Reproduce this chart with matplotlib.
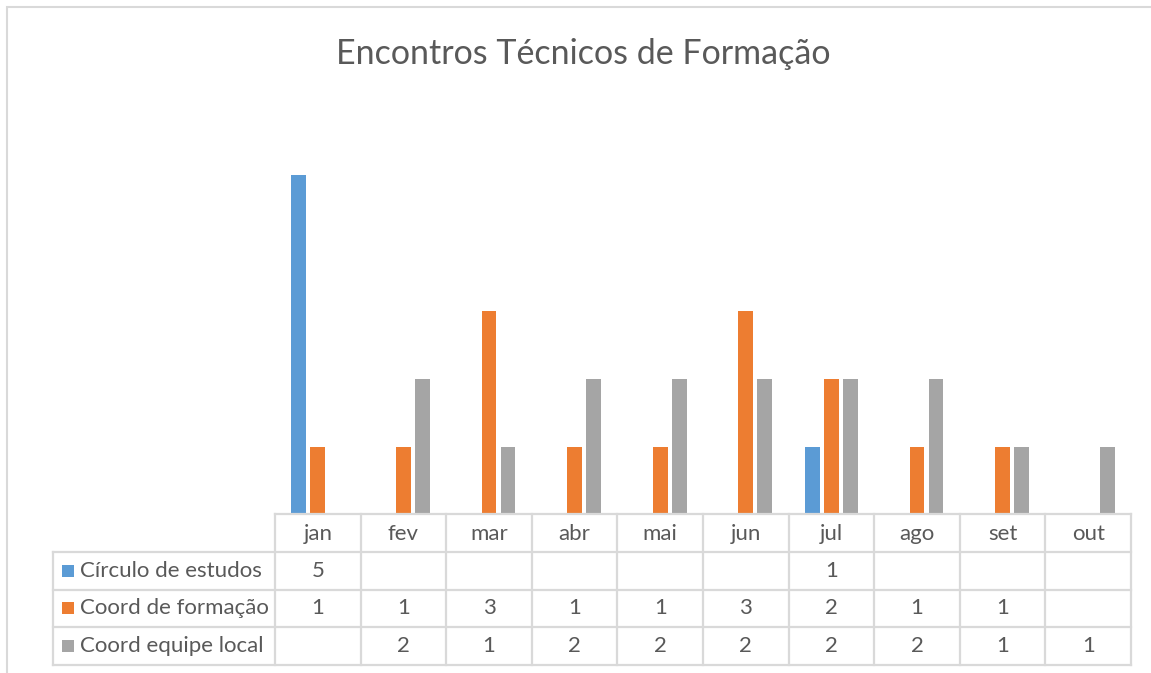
import matplotlib
matplotlib.use("Agg")
import matplotlib.pyplot as plt
from matplotlib.patches import Rectangle
import numpy as np

months = ["jan", "fev", "mar", "abr", "mai", "jun", "jul", "ago", "set", "out"]
series_names = ["Círculo de estudos", "Coord de formação", "Coord equipe local"]
circulo = [5, None, None, None, None, None, 1, None, None, None]
coord_formacao = [1, 1, 3, 1, 1, 3, 2, 1, 1, None]
coord_equipe = [None, 2, 1, 2, 2, 2, 2, 2, 1, 1]
series = [circulo, coord_formacao, coord_equipe]
colors = ["#5B9BD5", "#ED7D31", "#A5A5A5"]
title = "Encontros Técnicos de Formação"

TXT = "#595959"
GRID = "#D9D9D9"
plt.rcParams['font.family'] = ['Lato', 'DejaVu Sans']

W, H = 1151, 673
fig = plt.figure(figsize=(W / 100, H / 100), dpi=100)

def fx(px):
    return px / W

def fy(py):
    return 1 - py / H

# outer chart border
fig.patches.append(Rectangle((fx(7), fy(690)), fx(1170) - fx(7), fy(7) - fy(690),
                             transform=fig.transFigure, fill=False,
                             edgecolor=GRID, linewidth=1.5))

fig.text(fx(583), fy(54), title, ha="center", va="center", fontsize=24.5, color=TXT)

# main plot axes
x0, x1 = 275, 1131
ytop, ybot = 107, 515
ax = fig.add_axes([fx(x0), fy(ybot), fx(x1) - fx(x0), fy(ytop) - fy(ybot)])
n = len(months)
x = np.arange(n)
bw = 0.175
off = 0.222
for k, (vals, c) in enumerate(zip(series, colors)):
    v = [0 if a is None else a for a in vals]
    ax.bar(x + (k - 1) * off, v, width=bw, color=c, zorder=2)
ax.set_xlim(-0.5, n - 0.5)
ax.set_ylim(0, 6)
ax.axis("off")

# data table
cw = (x1 - x0) / n
lab_w = (x0 - 53) / cw
tb_top, tb_bot = 514, 665
tax = fig.add_axes([fx(53), fy(tb_bot), fx(x1) - fx(53), fy(tb_top) - fy(tb_bot)])
tax.set_xlim(-0.5 - lab_w, n - 0.5)
tax.set_ylim(4, 0)
tax.axis("off")
lw = 1.6
# horizontal lines
tax.plot([-0.5, n - 0.5], [0, 0], color=GRID, lw=lw, clip_on=False)
for r in [1, 2, 3, 4]:
    tax.plot([-0.5 - lab_w, n - 0.5], [r, r], color=GRID, lw=lw, clip_on=False)
# vertical lines
for i in range(n + 1):
    tax.plot([i - 0.5, i - 0.5], [0, 4], color=GRID, lw=lw, clip_on=False)
tax.plot([-0.5 - lab_w] * 2, [1, 4], color=GRID, lw=lw, clip_on=False)

fs = 16
for i, m in enumerate(months):
    tax.text(i, 0.52, m, ha="center", va="center", fontsize=fs, color=TXT)
for k, (name, vals, c) in enumerate(zip(series_names, series, colors)):
    r = k + 1.5
    sq = 12 / cw
    sqh = 12 / ((tb_bot - tb_top) / 4)
    tax.add_patch(Rectangle((-0.5 - lab_w + 9 / cw, r - sqh / 2), sq, sqh,
                            facecolor=c, edgecolor="none", clip_on=False))
    tax.text(-0.5 - lab_w + 27 / cw, r, name, ha="left", va="center",
             fontsize=fs, color=TXT)
    for i, v in enumerate(vals):
        if v is not None:
            tax.text(i, r, str(v), ha="center", va="center", fontsize=fs, color=TXT)

fig.savefig("out.png", dpi=100)
